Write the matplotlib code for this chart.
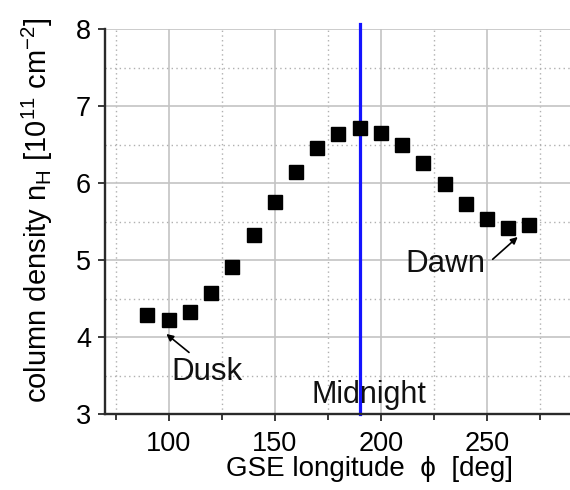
import matplotlib.pyplot as plt
from matplotlib.ticker import MultipleLocator

# Column density vs GSE longitude
longitude = [90, 100, 110, 120, 130, 140, 150, 160, 170, 180,
             190, 200, 210, 220, 230, 240, 250, 260, 270]
density = [4.28, 4.22, 4.32, 4.57, 4.91, 5.32, 5.75, 6.14, 6.45, 6.64,
           6.71, 6.65, 6.49, 6.26, 5.99, 5.73, 5.53, 5.42, 5.45]
midnight_phi = 190

plt.rcParams['font.family'] = ['Liberation Sans', 'DejaVu Sans']
plt.rcParams['mathtext.default'] = 'regular'

fig = plt.figure(figsize=(5.7, 4.9), dpi=100)
ax = fig.add_axes([0.1842, 0.155, 0.819, 0.7857])

ax.set_xlim(70, 290)
ax.set_ylim(3, 8)
ax.xaxis.set_major_locator(MultipleLocator(50))
ax.xaxis.set_minor_locator(MultipleLocator(25))
ax.yaxis.set_major_locator(MultipleLocator(1))
ax.yaxis.set_minor_locator(MultipleLocator(0.5))

# grid: solid major, dotted minor
ax.grid(which='major', color='#c4c4c4', lw=1.2, ls='-')
ax.grid(which='minor', color='#b0b0b0', lw=1.0, ls=(0, (1.0, 2.4)))
ax.set_axisbelow(True)

for s in ['top', 'right']:
    ax.spines[s].set_visible(False)
for s in ['left', 'bottom']:
    ax.spines[s].set_linewidth(1.7)
    ax.spines[s].set_color('#2a2a2a')

ax.tick_params(axis='both', which='major', direction='out', length=5, width=1.3,
               color='#2a2a2a', labelsize=19.5)
ax.tick_params(axis='x', which='minor', direction='out', length=4, width=1.3, color='#2a2a2a')
ax.tick_params(axis='y', which='minor', length=0)
ax.tick_params(axis='x', which='major', pad=7)
ax.tick_params(axis='y', which='major', pad=5)

ax.plot([midnight_phi, midnight_phi], [3, 8.06], color='#1414ff', lw=2.3, clip_on=False, zorder=2)
ax.plot(longitude, density, 's', color='black', ms=9.5, zorder=3)

ax.set_xlabel('GSE longitude  \u03d5  [deg]', fontsize=20)
ax.set_ylabel('column density $n_H$ [$10^{11}$ cm$^{-2}$]', fontsize=21)
ax.xaxis.set_label_coords(0.567, -0.108)
ax.yaxis.set_label_coords(-0.108, 0.53)

arrow = dict(arrowstyle='-|>', color='black', lw=1.2, mutation_scale=10, shrinkA=0, shrinkB=0)
ax.annotate('', xy=(98.9, 4.04), xytext=(109.6, 3.80), arrowprops=arrow)
ax.annotate('', xy=(264.5, 5.30), xytext=(252.7, 5.01), arrowprops=arrow)
ax.text(101.4, 3.44, 'Dusk', fontsize=22.5, va='baseline', ha='left', color='#111111')
ax.text(211.5, 4.84, 'Dawn', fontsize=22.5, va='baseline', ha='left', color='#111111')
ax.text(167.5, 3.15, 'Midnight', fontsize=22, va='baseline', ha='left', color='#111111')

fig.savefig('out.png', dpi=100)
